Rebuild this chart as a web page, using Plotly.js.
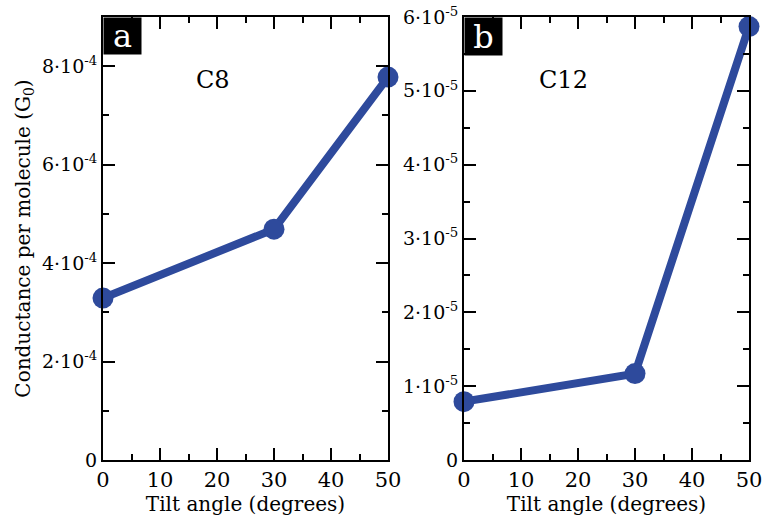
<!DOCTYPE html>
<html><head><meta charset="utf-8">
<script src="https://cdn.plot.ly/plotly-3.0.1.min.js"></script>
<style>html,body{margin:0;padding:0;background:#fff}#plot{width:766px;height:519px}</style>
</head><body><div id="plot"></div>
<script>
const tiltAngles = [0, 30, 50];
const c8Conductance = [3.29e-4, 4.69e-4, 7.78e-4];
const c12Conductance = [0.79e-5, 1.17e-5, 5.87e-5];
const leftTickVals = [0, 2e-4, 4e-4, 6e-4, 8e-4];
const leftTickText = ['0', '2·10<sup>-4</sup>', '4·10<sup>-4</sup>', '6·10<sup>-4</sup>', '8·10<sup>-4</sup>'];
const rightTickVals = [0, 1e-5, 2e-5, 3e-5, 4e-5, 5e-5, 6e-5];
const rightTickText = ['0', '1·10<sup>-5</sup>', '2·10<sup>-5</sup>', '3·10<sup>-5</sup>', '4·10<sup>-5</sup>', '5·10<sup>-5</sup>', '6·10<sup>-5</sup>'];
const xTickVals = [0, 10, 20, 30, 40, 50];

const serif = 'DejaVu Serif';
const blue = '#2E4A9C';
const W = 766, H = 519;
const px = v => v / W, py = v => 1 - v / H;

const lineStyle = {color: blue, width: 8};
const markerStyle = {color: blue, size: 21};

const traces = [
  {x: tiltAngles, y: c8Conductance, xaxis: 'x', yaxis: 'y', mode: 'lines+markers',
   line: lineStyle, marker: markerStyle, cliponaxis: false, hoverinfo: 'skip'},
  {x: tiltAngles, y: c12Conductance, xaxis: 'x2', yaxis: 'y2', mode: 'lines+markers',
   line: lineStyle, marker: markerStyle, cliponaxis: false, hoverinfo: 'skip'}
];

function xAxis(domain, anchor) {
  return {domain: domain, anchor: anchor, range: [0, 50], tickvals: xTickVals,
    showline: true, linecolor: '#000', linewidth: 2, mirror: 'allticks',
    ticks: 'inside', ticklen: 12, tickwidth: 2, tickcolor: '#000',
    minor: {ticks: 'inside', ticklen: 6, tickwidth: 2, tickcolor: '#000', dtick: 5, showgrid: false},
    showgrid: false, zeroline: false, fixedrange: true,
    tickfont: {family: serif, size: 21, color: '#000'},
    title: {text: 'Tilt angle (degrees)', font: {family: serif, size: 20, color: '#000'}, standoff: 0}};
}
function yAxis(domain, anchor, range, vals, text, minorDtick) {
  return {domain: domain, anchor: anchor, range: range, tickvals: vals, ticktext: text,
    showline: true, linecolor: '#000', linewidth: 2, mirror: 'allticks',
    ticks: 'inside', ticklen: 12, tickwidth: 2, tickcolor: '#000',
    minor: {ticks: 'inside', ticklen: 6, tickwidth: 2, tickcolor: '#000', dtick: minorDtick, tick0: 0, showgrid: false},
    showgrid: false, zeroline: false, fixedrange: true,
    tickfont: {family: serif, size: 19, color: '#000'}};
}

const yDom = [1 - 460 / H, 1 - 17 / H];
const layout = {
  width: W, height: H, showlegend: false,
  font: {family: serif, color: '#000'},
  paper_bgcolor: '#fff', plot_bgcolor: '#fff',
  margin: {l: 0, r: 0, t: 0, b: 0},
  xaxis: xAxis([px(103), px(388)], 'y'),
  yaxis: Object.assign(yAxis(yDom, 'x', [0, 9e-4], leftTickVals, leftTickText, 1e-4),
    {title: {text: 'Conductance per molecule (G<sub>0</sub>)', font: {family: serif, size: 20, color: '#000'}, standoff: 6}}),
  xaxis2: xAxis([px(464), px(749)], 'y2'),
  yaxis2: yAxis(yDom, 'x2', [0, 6e-5], rightTickVals, rightTickText, 0.5e-5),
  annotations: [
    {xref: 'paper', yref: 'paper', x: px(103), y: py(17), xanchor: 'left', yanchor: 'top',
     text: 'a', showarrow: false, bgcolor: '#000', width: 37, height: 36, borderpad: 0,
     font: {family: serif, size: 32, color: '#fff'}},
    {xref: 'paper', yref: 'paper', x: px(464), y: py(17), xanchor: 'left', yanchor: 'top',
     text: 'b', showarrow: false, bgcolor: '#000', width: 37, height: 37, borderpad: 0,
     font: {family: serif, size: 32, color: '#fff'}},
    {xref: 'paper', yref: 'paper', x: px(213), y: py(80), xanchor: 'center', yanchor: 'middle',
     text: 'C8', showarrow: false, font: {family: serif, size: 24, color: '#000'}},
    {xref: 'paper', yref: 'paper', x: px(563), y: py(80), xanchor: 'center', yanchor: 'middle',
     text: 'C12', showarrow: false, font: {family: serif, size: 24, color: '#000'}}
  ]
};
Plotly.newPlot('plot', traces, layout, {staticPlot: true, displayModeBar: false});
</script>
</body></html>
